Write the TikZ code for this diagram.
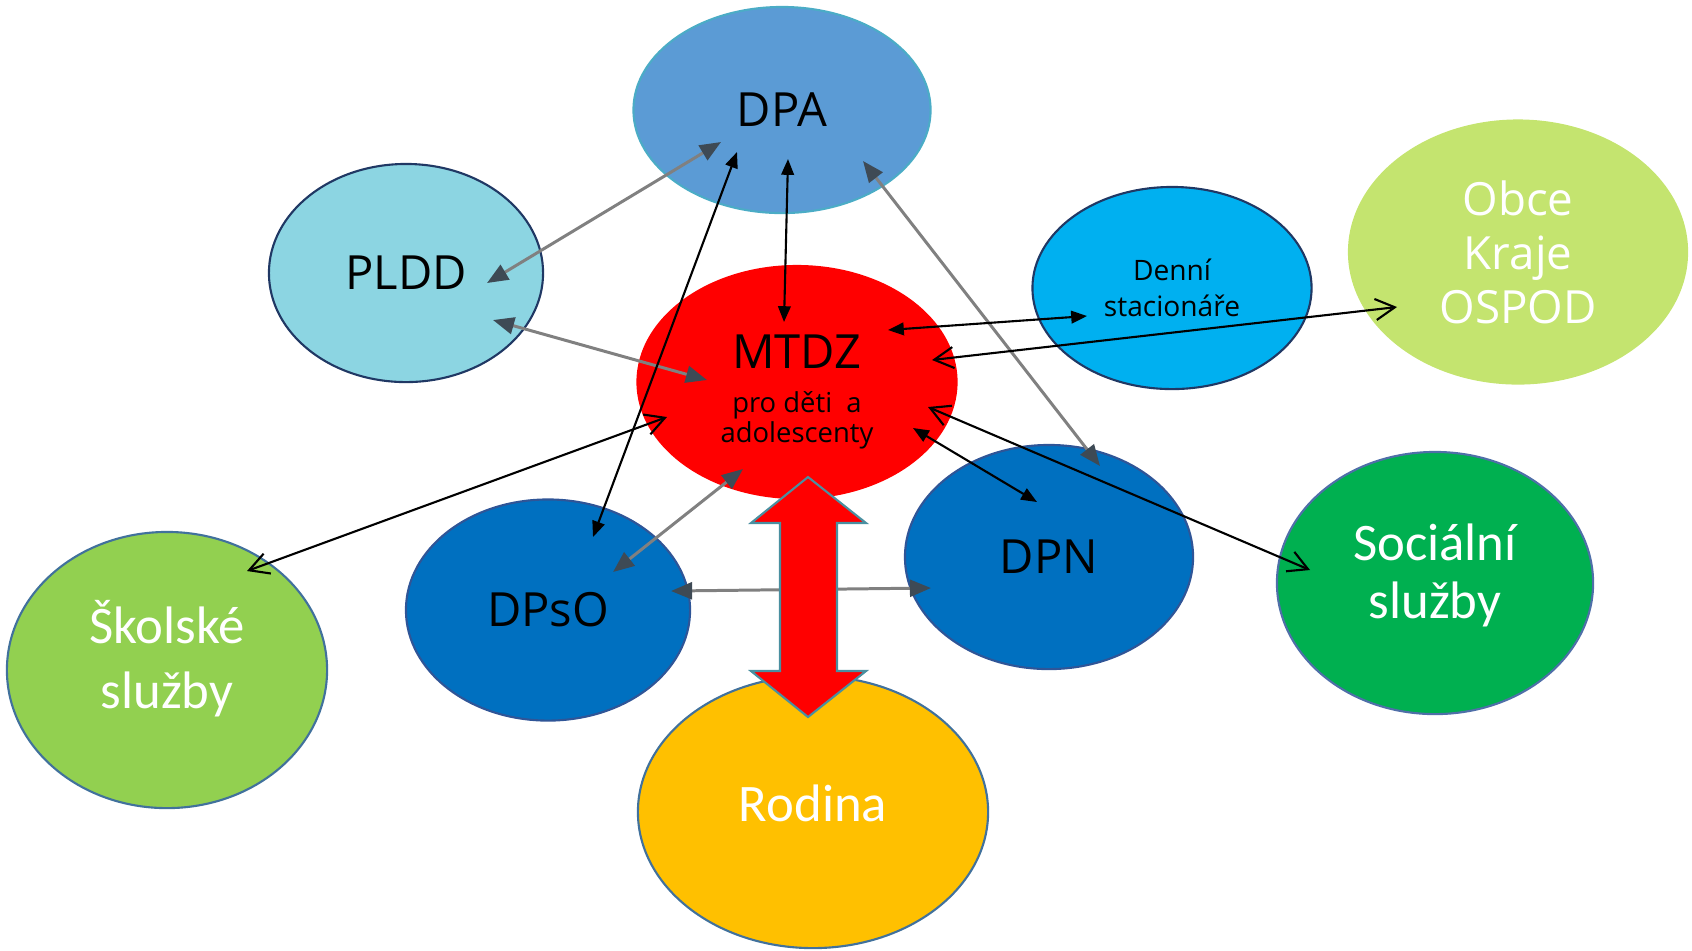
\documentclass[tikz,border=0pt]{standalone}
\usepackage{fontspec}
\setmainfont{Open Sans}
\newfontfamily\calibrifont{Carlito}
\usetikzlibrary{shapes.geometric,arrows.meta,calc}

\definecolor{dpablue}{HTML}{5B9BD5}
\definecolor{dpaline}{HTML}{4BACC6}
\definecolor{plddcyan}{HTML}{8CD5E2}
\definecolor{navyline}{HTML}{203864}
\definecolor{denniblue}{HTML}{00B0F0}
\definecolor{obcegreen}{HTML}{C4E46F}
\definecolor{socgreen}{HTML}{00B050}
\definecolor{socline}{HTML}{4F6FA8}
\definecolor{skolgreen}{HTML}{92D050}
\definecolor{steelline}{HTML}{41719C}
\definecolor{rodinayellow}{HTML}{FFC000}
\definecolor{dpblue}{HTML}{0070C0}
\definecolor{dpline}{HTML}{2F5597}
\definecolor{bigline}{HTML}{4A8FA0}
\definecolor{linkline}{HTML}{808080}
\definecolor{linkhead}{HTML}{3E4A55}

\begin{document}
\begin{tikzpicture}[x=0.01cm,y=-0.01cm,
	bubble/.style={ellipse, inner sep=0pt, align=center, line width=0.6pt},
	bigtext/.style={font=\fontsize{13.4}{16}\selectfont},
	whitetext/.style={text=white, align=center, inner sep=0pt, font=\calibrifont\fontsize{15}{18.5}\selectfont},
	linkgrey/.style={line width=0.85pt, draw=linkline, {Triangle[length=6pt,width=4.8pt,color=linkhead]}-{Triangle[length=6pt,width=4.8pt,color=linkhead]}},
	linkblack/.style={line width=0.6pt, {Triangle[length=4.5pt,width=3.6pt]}-{Triangle[length=4.5pt,width=3.6pt]}},
	linkopen/.style={line width=0.6pt, {Straight Barb[length=5.5pt,width=6pt]}-{Straight Barb[length=5.5pt,width=6pt]}}]

	\useasboundingbox (0,0) rectangle (1692,950);

	% Bubbles
	\node[bubble, fill=rodinayellow, draw=steelline, minimum width=3.5cm, minimum height=2.72cm,
		label={[whitetext, yshift=0.09cm]center:Rodina}] (rodina) at (813,812) {};
	\node[bubble, bigtext, fill=dpablue, draw=dpaline, minimum width=2.97cm, minimum height=2.06cm] (dpa) at (782,110) {DPA};
	\node[bubble, bigtext, fill=plddcyan, draw=navyline, minimum width=2.74cm, minimum height=2.18cm] (pldd) at (406,273) {PLDD};
	\node[bubble, fill=red, minimum width=3.21cm, minimum height=2.34cm,
		label={[align=center, inner sep=0pt, yshift=-0.1cm, font=\fontsize{7.8}{8.3}\selectfont]center:{\fontsize{13.4}{16}\selectfont MTDZ}\\[4.2pt]pro děti\ \ a\\adolescenty}] (mtdz) at (797,382) {};
	\node[bubble, fill=denniblue, draw=navyline, minimum width=2.79cm, minimum height=2.02cm, font=\fontsize{8}{10.2}\selectfont] (denni) at (1172,288) {Denní\\stacionáře};
	\node[bubble, fill=obcegreen, text=white, minimum width=3.4cm, minimum height=2.65cm, font=\fontsize{13}{15.4}\selectfont] (obce) at (1518,252) {Obce\\Kraje\\OSPOD};
	\node[bubble, fill=socgreen, draw=socline, minimum width=3.16cm, minimum height=2.62cm,
		label={[whitetext, yshift=0.075cm, font=\calibrifont\fontsize{15}{16.5}\selectfont]center:Sociální\\služby}] (socialni) at (1435,583) {};
	\node[bubble, fill=skolgreen, draw=steelline, minimum width=3.2cm, minimum height=2.76cm,
		label={[whitetext, yshift=0.11cm]center:Školské\\služby}] (skolske) at (167,670) {};
	\node[bubble, bigtext, fill=dpblue, draw=dpline, minimum width=2.84cm, minimum height=2.21cm] (dpso) at (548,610) {DPsO};
	\node[bubble, bigtext, fill=dpblue, draw=dpline, minimum width=2.88cm, minimum height=2.24cm] (dpn) at (1049,557) {DPN};

	% Grey links
	\draw[linkgrey] ($(dpa.center)+(-61,32)$) -- ($(pldd.center)+(81,10)$);
	\draw[linkgrey] ($(pldd.center)+(87,47)$) -- ($(mtdz.center)+(-90,-2)$);
	\draw[linkgrey] ($(dpa.center)+(81,51)$) -- ($(dpn.center)+(51,-91)$);
	\draw[linkgrey] ($(mtdz.center)+(-54,87)$) -- ($(dpso.center)+(65,-38)$);
	\draw[linkgrey] ($(dpso.center)+(123,-19)$) -- ($(dpn.center)+(-118,31)$);

	% Black links
	\draw[linkblack] ($(dpa.center)+(6,49)$) -- ($(mtdz.center)+(-13,-60)$);
	\draw[linkblack] ($(dpa.center)+(-45,42)$) -- ($(dpso.center)+(45,-73)$);
	\draw[linkblack] ($(mtdz.center)+(91,-52)$) -- ($(denni.center)+(-85,28)$);
	\draw[linkblack] ($(mtdz.center)+(116,46)$) -- ($(dpn.center)+(-12,-55)$);

	% Open links
	\draw[linkopen] ($(mtdz.center)+(135,-22)$) -- ($(obce.center)+(-121,55)$);
	\draw[linkopen] ($(mtdz.center)+(-130,35)$) -- ($(skolske.center)+(80,-99)$);
	\draw[linkopen] ($(mtdz.center)+(131,25)$) -- ($(socialni.center)+(-125,-13)$);

	% Big arrow
	\draw[fill=red, draw=bigline, line width=0.6pt, line join=miter]
		(808,477) -- (866,523) -- (837,523) -- (837,671) -- (866,671) -- (808,717)
		-- (751,671) -- (780,671) -- (780,523) -- (751,523) -- cycle;

\end{tikzpicture}
\end{document}
